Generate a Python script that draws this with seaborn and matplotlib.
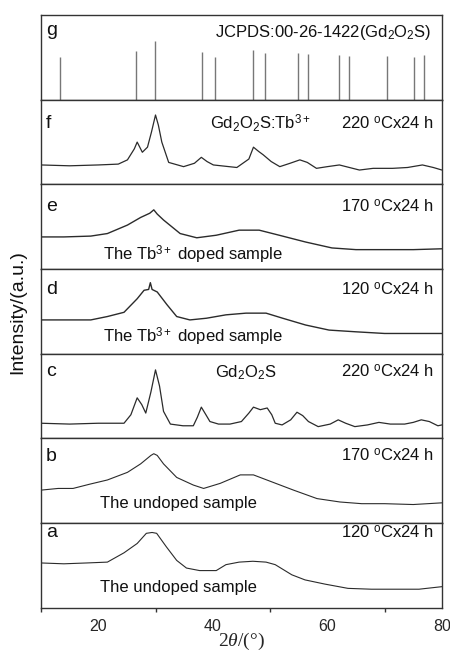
import numpy as np
import pandas as pd
import seaborn as sns
import matplotlib.pyplot as plt
from matplotlib.ticker import MultipleLocator

# XRD patterns, intensity given as fraction of each panel height
a_x = [10, 14, 18, 21.6, 24.5, 26.8, 28.4, 29.4, 30.2, 31.9, 33.7, 35.4, 37.7, 40.6, 42.3, 44.6, 47, 49.3, 50.9, 53.8, 56.1, 59.6, 63.6, 67.7, 72, 76, 80]
a_y = [0.53, 0.52, 0.53, 0.54, 0.65, 0.76, 0.88, 0.89, 0.88, 0.72, 0.56, 0.47, 0.44, 0.44, 0.51, 0.54, 0.55, 0.54, 0.51, 0.39, 0.33, 0.28, 0.23, 0.22, 0.22, 0.22, 0.25]

b_x = [10, 13, 15.6, 18.5, 21.6, 25.1, 27.4, 29.2, 29.7, 30.3, 31.4, 33.7, 36.6, 38.4, 41.3, 44.8, 47.1, 50.6, 54.1, 58.2, 62.2, 66, 70, 75, 80]
b_y = [0.39, 0.41, 0.41, 0.46, 0.51, 0.60, 0.70, 0.80, 0.82, 0.80, 0.70, 0.54, 0.45, 0.41, 0.47, 0.57, 0.57, 0.48, 0.39, 0.29, 0.25, 0.23, 0.23, 0.22, 0.24]

c_x = [10, 15, 20, 24.5, 25.7, 26.8, 27.6, 28.3, 29.2, 30.0, 30.7, 31.4, 32.6, 34.8, 36.6, 37.3, 38.0, 38.8, 39.5, 41.0, 43, 45, 46.3, 47.1, 48.3, 49.5, 50.3, 50.9, 52.1, 53.6, 54.7, 55.7, 56.7, 58.4, 60.5, 61.9, 63.2, 64.8, 67, 69, 71, 73.5, 75, 76.4, 77.8, 79.3, 80]
c_y = [0.18, 0.17, 0.18, 0.18, 0.28, 0.48, 0.40, 0.30, 0.55, 0.81, 0.62, 0.32, 0.17, 0.15, 0.15, 0.25, 0.37, 0.28, 0.20, 0.17, 0.17, 0.20, 0.30, 0.37, 0.34, 0.36, 0.28, 0.18, 0.16, 0.22, 0.31, 0.27, 0.20, 0.14, 0.17, 0.22, 0.18, 0.14, 0.16, 0.19, 0.17, 0.17, 0.19, 0.22, 0.20, 0.15, 0.16]

d_x = [10, 14, 18.7, 21.6, 24.5, 26.8, 28, 28.8, 29.1, 29.4, 30.3, 32.0, 33.7, 36.0, 38.9, 42.3, 45.8, 49.3, 52.2, 56.2, 60.3, 64.9, 70, 75, 80]
d_y = [0.40, 0.40, 0.40, 0.44, 0.49, 0.65, 0.75, 0.76, 0.84, 0.76, 0.73, 0.58, 0.44, 0.40, 0.42, 0.46, 0.48, 0.48, 0.42, 0.34, 0.28, 0.26, 0.24, 0.24, 0.24]

e_x = [10, 14, 18.7, 21.6, 25.1, 27.4, 29.0, 29.7, 30.3, 31.4, 34.3, 37.2, 40.6, 44.6, 48.1, 51.6, 56.2, 60.8, 65, 70, 75, 80]
e_y = [0.38, 0.38, 0.39, 0.42, 0.52, 0.61, 0.66, 0.70, 0.65, 0.58, 0.42, 0.37, 0.40, 0.46, 0.46, 0.40, 0.32, 0.25, 0.23, 0.23, 0.23, 0.24]

f_x = [10, 15, 20, 23.5, 25.1, 26.3, 26.8, 27.7, 28.6, 29.3, 30.0, 30.5, 31.1, 32.3, 34.9, 36.8, 38.0, 39.0, 40.1, 44.2, 46.3, 47.1, 48.0, 48.8, 50.2, 51.7, 53.5, 55.2, 56.5, 58.1, 60, 62.1, 65.6, 68, 71.4, 74, 76.6, 78.5, 80]
f_y = [0.23, 0.22, 0.23, 0.24, 0.29, 0.42, 0.50, 0.38, 0.44, 0.62, 0.82, 0.70, 0.50, 0.26, 0.21, 0.25, 0.32, 0.27, 0.23, 0.20, 0.30, 0.44, 0.39, 0.35, 0.27, 0.21, 0.25, 0.29, 0.26, 0.19, 0.21, 0.23, 0.17, 0.19, 0.19, 0.20, 0.23, 0.20, 0.17]

# JCPDS reference lines
g_pos = [13.3, 26.6, 29.9, 38.1, 40.4, 47.0, 49.2, 54.9, 56.7, 62.1, 63.7, 70.5, 75.2, 76.8]
g_h = [0.50, 0.575, 0.69, 0.56, 0.50, 0.59, 0.55, 0.55, 0.54, 0.53, 0.515, 0.515, 0.50, 0.53]

letters = ['g', 'f', 'e', 'd', 'c', 'b', 'a']
conditions = [None, '220 $^{\\mathrm{o}}$Cx24 h', '170 $^{\\mathrm{o}}$Cx24 h', '120 $^{\\mathrm{o}}$Cx24 h',
              '220 $^{\\mathrm{o}}$Cx24 h', '170 $^{\\mathrm{o}}$Cx24 h', '120 $^{\\mathrm{o}}$Cx24 h']
label_y = [0.82, 0.72, 0.74, 0.76, 0.79, 0.79, 0.89]
curves = [None, (f_x, f_y), (e_x, e_y), (d_x, d_y), (c_x, c_y), (b_x, b_y), (a_x, a_y)]
widths = [1.0, 0.9, 1.0, 1.0, 0.9, 0.8, 0.8]

sns.set_style("white")
plt.rcParams['font.family'] = ['Liberation Sans', 'DejaVu Sans']
plt.rcParams['mathtext.fontset'] = 'custom'
plt.rcParams['mathtext.rm'] = 'Liberation Sans'
plt.rcParams['mathtext.it'] = 'Liberation Serif:italic'
plt.rcParams['mathtext.bf'] = 'Liberation Sans:bold'

fig, axes = plt.subplots(7, 1, figsize=(4.5, 6.55), dpi=100, sharex=True,
                         gridspec_kw={'hspace': 0})
fig.subplots_adjust(left=0.091, right=0.982, top=0.977, bottom=0.072)

line_col = '#2b2b2b'
for i, ax in enumerate(axes):
    if curves[i] is not None:
        df = pd.DataFrame({'x': curves[i][0], 'y': curves[i][1]})
        sns.lineplot(data=df, x='x', y='y', ax=ax, color=line_col, linewidth=widths[i])
    else:
        ax.vlines(g_pos, 0, g_h, color='#777777', linewidth=1.0)
    ax.set_xlim(10, 80)
    ax.set_ylim(0, 1)
    ax.set_yticks([])
    ax.set_xlabel('')
    ax.set_ylabel('')
    for s in ax.spines.values():
        s.set_color('#333333')
        s.set_linewidth(1.0)
    ax.text(0.012, label_y[i], letters[i], transform=ax.transAxes, fontsize=14,
            ha='left', va='center', color='#111111')
    if conditions[i]:
        ax.text(0.98, label_y[i], conditions[i], transform=ax.transAxes, fontsize=12,
                ha='right', va='center', color='#111111')
    if i < 6:
        ax.tick_params(axis='x', which='both', bottom=False, labelbottom=False)

axes[0].text(0.973, 0.80, 'JCPDS:00-26-1422(Gd$_2$O$_2$S)', transform=axes[0].transAxes,
             fontsize=12, ha='right', va='center', color='#111111')
axes[1].text(0.547, 0.72, 'Gd$_2$O$_2$S:Tb$^{3+}$', transform=axes[1].transAxes,
             fontsize=12, ha='center', va='center', color='#111111')
axes[4].text(0.51, 0.78, 'Gd$_2$O$_2$S', transform=axes[4].transAxes,
             fontsize=12, ha='center', va='center', color='#111111')
axes[2].text(0.154, 0.165, 'The Tb$^{3+}$ doped sample', transform=axes[2].transAxes,
             fontsize=12, ha='left', va='center', color='#111111')
axes[3].text(0.154, 0.20, 'The Tb$^{3+}$ doped sample', transform=axes[3].transAxes,
             fontsize=12, ha='left', va='center', color='#111111')
axes[5].text(0.147, 0.235, 'The undoped sample', transform=axes[5].transAxes,
             fontsize=12, ha='left', va='center', color='#111111')
axes[6].text(0.147, 0.235, 'The undoped sample', transform=axes[6].transAxes,
             fontsize=12, ha='left', va='center', color='#111111')

ax = axes[-1]
ax.xaxis.set_major_locator(MultipleLocator(20))
ax.xaxis.set_minor_locator(MultipleLocator(10))
ax.set_xticks([20, 40, 60, 80])
ax.tick_params(axis='x', which='major', direction='out', length=5, width=1,
               color='#333333', labelsize=11.5, pad=3)
ax.tick_params(axis='x', which='minor', direction='out', length=3, width=1,
               color='#333333', bottom=True)
ax.set_xlabel('2$\\theta$/(°)', fontsize=14, family=['Liberation Serif', 'DejaVu Serif'],
              labelpad=-2)

fig.text(0.04, 0.524, 'Intensity/(a.u.)', rotation=90, fontsize=14,
         ha='center', va='center', color='#111111')

fig.savefig('out.png', dpi=100)
